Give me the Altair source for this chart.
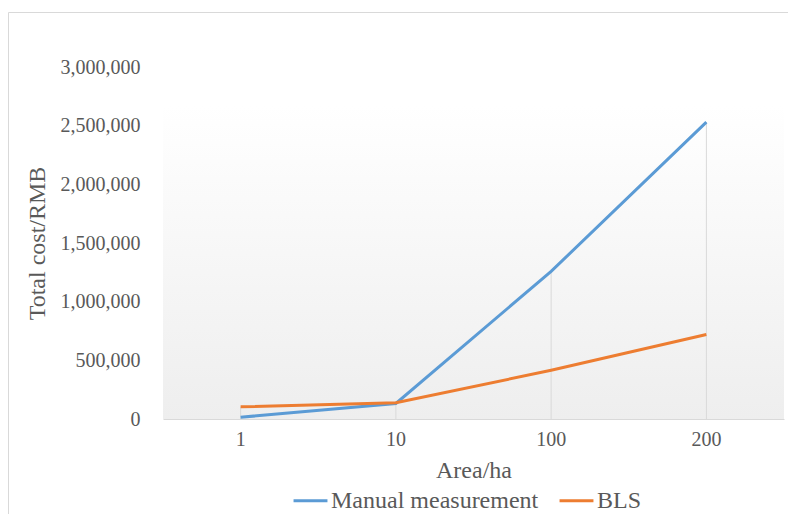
import altair as alt
import pandas as pd

area = ["1", "10", "100", "200"]
manual = [15000, 132000, 1258000, 2530000]
bls = [104000, 138000, 415000, 720000]
series_names = ["Manual measurement", "BLS"]
series_colors = ["#5B9BD5", "#ED7D31"]

rows = []
for a, m, b in zip(area, manual, bls):
    rows.append({"Area": a, "Series": series_names[0], "Cost": m})
    rows.append({"Area": a, "Series": series_names[1], "Cost": b})
df = pd.DataFrame(rows)
drop = pd.DataFrame({"Area": area, "Top": [max(m, b) for m, b in zip(manual, bls)], "Zero": [0] * len(area)})
one = pd.DataFrame({"k": [0]})

W, H = 621, 352
FONT = "Liberation Serif"
TXT = "#595959"

xenc = alt.X("Area:O", sort=area,
             axis=alt.Axis(title="Area/ha", labelAngle=0, ticks=False, domainColor="#d9d9d9",
                           labelFontSize=20, labelPadding=10, labelColor=TXT,
                           titleFontSize=24, titleColor=TXT, titleFontWeight="normal",
                           titleX=W / 2, titleY=51, titleBaseline="middle"))
yscale = alt.Scale(domain=[0, 3000000])
yaxis = alt.Axis(title="Total cost/RMB", values=[0, 500000, 1000000, 1500000, 2000000, 2500000, 3000000],
                 format=",.0f", grid=False, domain=False, ticks=False, labelPadding=23,
                 labelFontSize=20, labelColor=TXT, titleFontSize=24, titleColor=TXT,
                 titleFontWeight="normal", titleAngle=-90, titleX=-126, titleY=H / 2,
                 titleAlign="center", titleBaseline="middle")

border = alt.Chart(one).mark_rect(fill=None, stroke="#d9d9d9", strokeWidth=1).encode(
    x=alt.value(-154.5), x2=alt.value(700), y=alt.value(-54.5), y2=alt.value(500))

bg = alt.Chart(one).mark_rect(
    color=alt.Gradient(gradient="linear",
                       stops=[alt.GradientStop(color="#ffffff", offset=0),
                              alt.GradientStop(color="#eeeeee", offset=1)],
                       x1=0, x2=0, y1=0, y2=1)
).encode(x=alt.value(0), x2=alt.value(W), y=alt.value(38), y2=alt.value(H))

rules = alt.Chart(drop).mark_rule(color="#d9d9d9", strokeWidth=1).encode(
    x=xenc, y=alt.Y("Top:Q", scale=yscale, axis=yaxis), y2="Zero:Q")

lines = alt.Chart(df).mark_line(strokeWidth=3).encode(
    x=xenc,
    y=alt.Y("Cost:Q", scale=yscale, axis=yaxis),
    color=alt.Color("Series:N", sort=series_names,
                    scale=alt.Scale(domain=series_names, range=series_colors),
                    legend=alt.Legend(title=None, orient="none", direction="horizontal",
                                      legendX=129, legendY=415, symbolType="stroke",
                                      symbolSize=1150, symbolStrokeWidth=3,
                                      labelFontSize=24, labelColor=TXT, labelOffset=2,
                                      labelLimit=400, columnPadding=14)),
)

chart = alt.layer(border, bg, rules, lines).properties(
    width=W, height=H,
    autosize=alt.AutoSizeParams(type="none"),
    padding={"left": 155, "top": 59, "right": 4, "bottom": 95},
).configure(font=FONT).configure_view(stroke=None)

chart.save("out.html", embed_options={"renderer": "svg", "actions": False})
